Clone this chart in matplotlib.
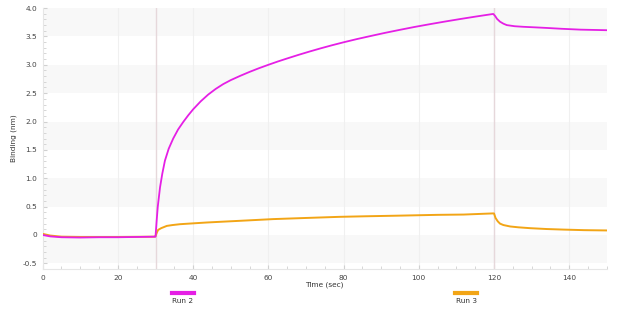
import numpy as np
import matplotlib
matplotlib.use("Agg")
import matplotlib.pyplot as plt
from matplotlib.ticker import FuncFormatter, MultipleLocator
from matplotlib.lines import Line2D

# ---- data ----
run2_time = [0, 2, 5, 10, 15, 20, 25, 29.8, 30.0, 30.3, 30.6, 31.2, 31.8, 32.5, 33.5,
             34.7, 36, 37.4, 38.7, 40, 42, 44, 46, 48, 50, 52.5, 55, 57.5, 60, 62.5,
             65, 68, 71, 74, 77, 80, 83.5, 87, 91, 95, 99, 103, 107, 111, 115,
             119.8, 120.3, 120.8, 121.6, 122.5, 123.4, 125.5, 127.8, 131, 134, 138,
             143, 150]
run2_binding = [0.0, -0.025, -0.04, -0.045, -0.04, -0.04, -0.035, -0.03, -0.03, 0.25,
                0.5, 0.84, 1.08, 1.31, 1.52, 1.70, 1.86, 1.995, 2.11, 2.215, 2.355,
                2.475, 2.575, 2.66, 2.73, 2.805, 2.875, 2.94, 3.0, 3.058, 3.112, 3.175,
                3.235, 3.292, 3.346, 3.397, 3.453, 3.505, 3.563, 3.617, 3.669, 3.717,
                3.763, 3.807, 3.849, 3.897, 3.86, 3.81, 3.76, 3.725, 3.70, 3.68, 3.67,
                3.66, 3.65, 3.635, 3.62, 3.61]

run3_time = [0, 2, 5, 10, 20, 29.8, 30.0, 30.4, 30.7, 31.5, 33, 34.5, 36.5, 40, 43.6,
             48, 52.5, 61.3, 70, 79, 86, 94.1, 105, 111.9, 119.6, 120.0, 120.4, 121,
             121.6, 122.5, 124.3, 126.5, 129.6, 134, 138.5, 144, 150]
run3_binding = [0.02, -0.01, -0.03, -0.035, -0.035, -0.03, -0.02, 0.05, 0.09, 0.12,
                0.16, 0.175, 0.19, 0.205, 0.22, 0.235, 0.25, 0.28, 0.30, 0.32, 0.33,
                0.34, 0.355, 0.36, 0.38, 0.38, 0.30, 0.24, 0.20, 0.175, 0.15, 0.135,
                0.12, 0.105, 0.095, 0.085, 0.08]

series_names = ["Run 2", "Run 3"]
series_colors = ["#e51fe5", "#f2a516"]
step_marks = [30, 120]
band_starts = [-0.5, 0.5, 1.5, 2.5, 3.5]

# ---- figure ----
fig = plt.figure(figsize=(6.4, 3.11), dpi=100)
ax = fig.add_axes([0.0667, 0.135, 0.8815, 0.839])

for b in band_starts:
    ax.axhspan(b, b + 0.5, color="#f8f8f8", lw=0, zorder=0)

for x in range(20, 150, 20):
    ax.axvline(x, color="#f0f0f0", lw=0.8, zorder=1)
for x in step_marks:
    ax.axvline(x, color="#e6d8db", lw=1.0, zorder=2)

ax.plot(run2_time, run2_binding, color=series_colors[0], lw=1.3, zorder=4)
ax.plot(run3_time, run3_binding, color=series_colors[1], lw=1.4, zorder=3)

ax.set_xlim(0, 150)
ax.set_ylim(-0.6, 4.0)
ax.xaxis.set_major_locator(MultipleLocator(20))
ax.xaxis.set_minor_locator(MultipleLocator(5))
ax.yaxis.set_major_locator(MultipleLocator(0.5))
ax.yaxis.set_minor_locator(MultipleLocator(0.1))
ax.yaxis.set_major_formatter(FuncFormatter(lambda v, p: "0" if abs(v) < 1e-9 else f"{v:.1f}"))

for s in ["top", "right"]:
    ax.spines[s].set_visible(False)
ax.spines["left"].set_color("#e6e6e6")
ax.spines["bottom"].set_color("#e6e6e6")
ax.tick_params(axis="both", which="both", direction="in", color="#d0d0d0",
               labelsize=5.3, labelcolor="#444444")
ax.tick_params(axis="both", which="major", length=3, pad=4)
ax.tick_params(axis="both", which="minor", length=2)

ax.set_xlabel("Time (sec)", fontsize=5.3, color="#333333", labelpad=1)
ax.set_ylabel("Binding (nm)", fontsize=5.3, color="#333333", labelpad=4)

# legend below chart (line above text)
legend_x = [183 / 640, 466 / 640]
for name, col, lx in zip(series_names, series_colors, legend_x):
    fig.add_artist(Line2D([lx - 11 / 640, lx + 11 / 640], [1 - 293 / 311] * 2,
                          color=col, lw=3, transform=fig.transFigure))
    fig.text(lx, 1 - 301 / 311, name, fontsize=5.3, color="#333333",
             ha="center", va="center")

fig.savefig("out.png", dpi=100)
